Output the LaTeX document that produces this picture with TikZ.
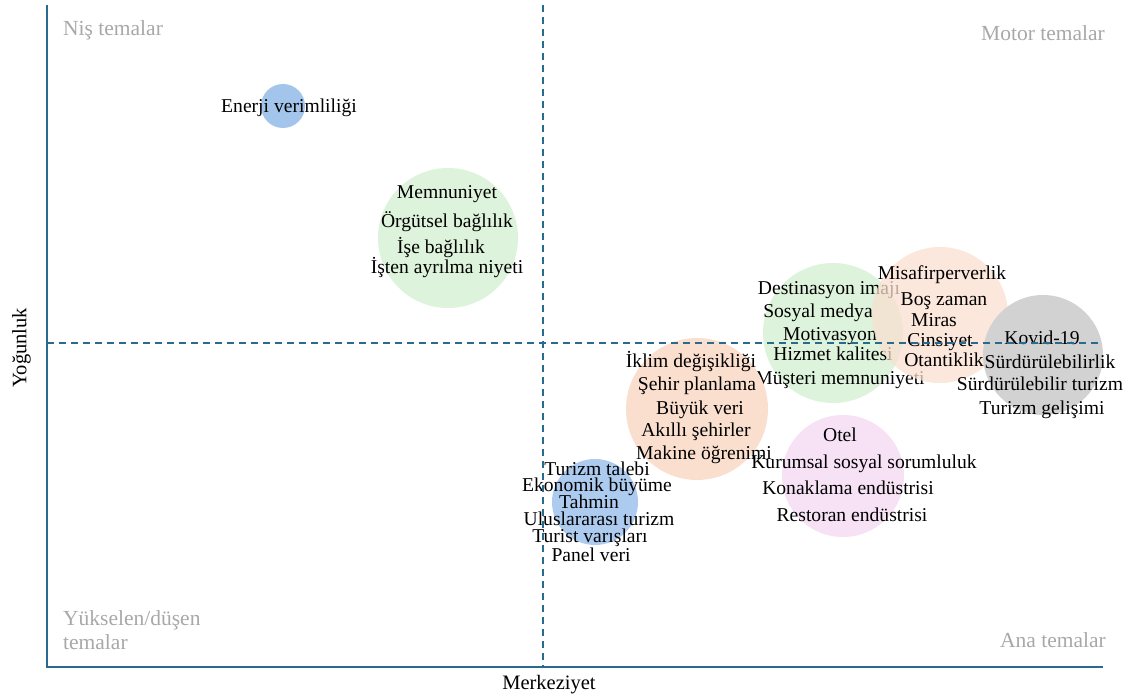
\documentclass[tikz,border=0pt]{standalone}
\usepackage{fontspec}
\setmainfont{Liberation Serif}
\definecolor{axisblue}{HTML}{2A6A8F}
\definecolor{quadgray}{HTML}{A8A8A8}
\definecolor{bubbleblue}{HTML}{A3C5EC}
\definecolor{bubblegreen}{HTML}{DDF3DB}
\definecolor{bubblepeach}{HTML}{FADFCF}
\definecolor{bubblegray}{HTML}{D2D2D2}
\definecolor{bubblepink}{HTML}{F6E1F5}
\begin{document}
\begin{tikzpicture}[x=1pt,y=-1pt,
    bubble/.style={circle, draw=none, inner sep=0pt},
    term/.style={font=\fontsize{19.6}{22}\selectfont, inner sep=0pt, text height=15pt, text depth=2pt},
    quad/.style={font=\fontsize{21.5}{24}\selectfont, text=quadgray, inner sep=0pt},
    guide/.style={draw=axisblue, dash pattern=on 7pt off 5pt, line width=1.6pt}]
  \useasboundingbox (0,0) rectangle (1125,695);

  % niche themes
  \node[bubble, fill=bubbleblue, minimum size=44pt] (energy) at (283,106) {};
  \node[term] (enerji) at (289,106) {Enerji verimliliği};

  \node[bubble, fill=bubblegreen, minimum size=140pt] (work) at (448,238) {};
  \node[term] (memnun) at (447,192) {Memnuniyet};
  \node[term] (orgut) at (447,221) {Örgütsel bağlılık};
  \node[term] (ise) at (441,247) {İşe bağlılık};
  \node[term] (isten) at (447,267) {İşten ayrılma niyeti};

  % motor themes
  \node[bubble, fill=bubblegreen, minimum size=140pt] (destination) at (833,333) {};
  \node[term] (imaj) at (829,288) {Destinasyon imajı};
  \node[term] (sosyal) at (818,311) {Sosyal medya};
  \node[term] (motiv) at (830,334) {Motivasyon};
  \node[term] (hizmet) at (833,354) {Hizmet kalitesi};
  \node[term] (musteri) at (840,378) {Müşteri memnuniyeti};

  \node[bubble, fill=bubblepeach, fill opacity=0.75, minimum size=136pt] (heritage) at (940,315) {};
  \node[term] (misafir) at (942,273) {Misafirperverlik};
  \node[term] (bos) at (944,299) {Boş zaman};
  \node[term] (miras) at (934,320) {Miras};
  \node[term] (cinsiyet) at (940,340) {Cinsiyet};
  \node[term] (otantik) at (944,360) {Otantiklik};

  \node[bubble, fill=bubblegray, minimum size=120pt] (sustain) at (1043,355) {};
  \node[term] (kovid) at (1042,338) {Kovid-19};
  \node[term] (surdur) at (1050,362) {Sürdürülebilirlik};
  \node[term] (surturizm) at (1040,384) {Sürdürülebilir turizm};
  \node[term] (gelisim) at (1042,408) {Turizm gelişimi};

  % basic themes
  \node[bubble, fill=bubblepeach, minimum size=142pt] (smart) at (697,409) {};
  \node[term] (iklim) at (691,361) {İklim değişikliği};
  \node[term] (sehir) at (697,384) {Şehir planlama};
  \node[term] (buyuk) at (700,408) {Büyük veri};
  \node[term] (akilli) at (696,430) {Akıllı şehirler};

  \node[bubble, fill=bubblepink, minimum size=122pt] (hotel) at (843,476) {};
  \node[term] (makine) at (704,453) {Makine öğrenimi};
  \node[term] (otel) at (840,435) {Otel};
  \node[term] (kurumsal) at (864,462) {Kurumsal sosyal sorumluluk};
  \node[term] (konaklama) at (848,488) {Konaklama endüstrisi};
  \node[term] (restoran) at (852,515) {Restoran endüstrisi};

  \node[bubble, fill=bubbleblue!90!white, minimum size=86pt] (demand) at (595,502) {};
  \node[term] (talep) at (597,469) {Turizm talebi};
  \node[term] (ekonomik) at (597,485) {Ekonomik büyüme};
  \node[term] (tahmin) at (589,502) {Tahmin};
  \node[term] (ulus) at (599,519) {Uluslararası turizm};
  \node[term] (turist) at (590,536) {Turist varışları};
  \node[term] (panel) at (591,555) {Panel veri};

  % guides and axes
  \draw[guide] (543,5) -- (543,667);
  \draw[guide] (47,343) -- (1100,343);
  \draw[axisblue, line width=1.8pt] (47,5) -- (47,667) -- (1103,667);

  % quadrant names
  \node[quad, anchor=west] (nis) at (63,30) {Niş temalar};
  \node[quad, anchor=east] (motor) at (1105,33) {Motor temalar};
  \node[quad, anchor=west, align=left] (yuksel) at (63,630) {Yükselen/düşen\\temalar};
  \node[quad, anchor=east] (ana) at (1106,640) {Ana temalar};

  % axis names
  \node[term, font=\fontsize{20.5}{24}\selectfont] (merkez) at (549,683) {Merkeziyet};
  \node[term, font=\fontsize{20.5}{24}\selectfont, rotate=90] (yogun) at (20,348) {Yoğunluk};
\end{tikzpicture}
\end{document}
